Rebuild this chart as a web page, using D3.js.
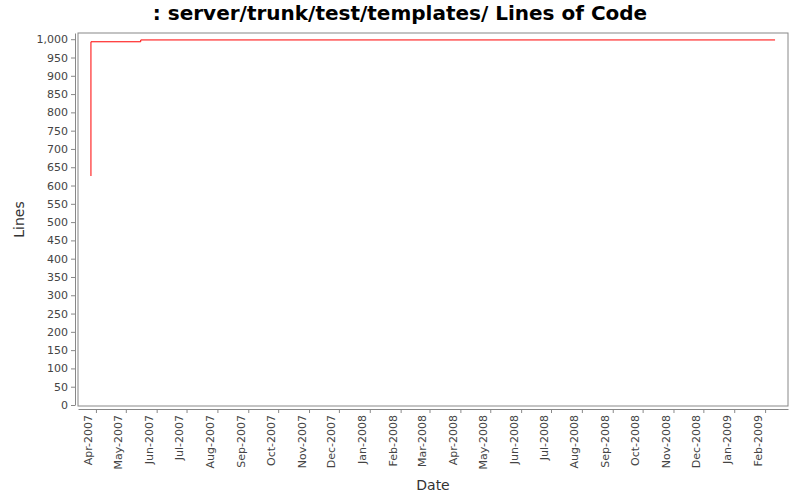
<!DOCTYPE html>
<html>
<head>
<meta charset="utf-8">
<script src="https://cdn.jsdelivr.net/npm/d3@7"></script>
<style>
  body { margin: 0; background: #fff; font-family: "DejaVu Sans", sans-serif; }
</style>
</head>
<body>
<svg id="chart" width="800" height="500"></svg>
<script>
const dates = ["2007-03-27", "2007-03-27", "2007-05-16", "2009-02-11"];
const lines = [626, 993, 998, 998];
const yTicks = d3.range(0, 1001, 50);

const parse = d3.timeParse("%Y-%m-%d");
const data = dates.map((d, i) => ({ date: parse(d), value: lines[i] }));

const margin = { left: 78, right: 12, top: 33, bottom: 94 };
const width = 800 - margin.left - margin.right;
const height = 500 - margin.top - margin.bottom;

const svg = d3.select("#chart");

svg.append("text")
  .attr("x", 400).attr("y", 20)
  .attr("text-anchor", "middle")
  .style("font-size", "20px").style("font-weight", "bold")
  .text(": server/trunk/test/templates/ Lines of Code");

const g = svg.append("g").attr("transform", `translate(${margin.left},${margin.top})`);

const getX = d3.scaleTime()
  .domain([parse("2007-03-14"), parse("2009-02-24")])
  .range([0, width]);

const getY = d3.scaleLinear()
  .domain([0, 1017])
  .range([height - 1, 0]);

const xAxis = d3.axisBottom(getX)
  .tickValues(d3.timeMonth.range(parse("2007-04-01"), parse("2009-03-01")))
  .tickFormat(d3.timeFormat("%b-%Y"))
  .tickSizeInner(4).tickSizeOuter(0);

const xg = g.append("g").attr("transform", `translate(0,${height + 3})`).call(xAxis);
xg.selectAll("text")
  .attr("transform", "rotate(-90)")
  .attr("text-anchor", "end")
  .attr("x", -6).attr("y", -4).attr("dy", 0)
  .style("font-size", "11px").attr("fill", "#444");

const yg = g.append("g").attr("transform", "translate(-3,0)")
  .call(d3.axisLeft(getY).tickValues(yTicks).tickFormat(d3.format(",")).tickSizeInner(4).tickSizeOuter(0));
yg.selectAll("text").style("font-size", "11px").attr("fill", "#444");

[xg, yg].forEach(a => {
  a.select(".domain").attr("stroke", "#888");
  a.selectAll(".tick line").attr("stroke", "#888");
  a.style("font-family", "DejaVu Sans, sans-serif");
});

g.append("rect")
  .attr("width", width).attr("height", height)
  .attr("fill", "none").attr("stroke", "#888");

const linePath = d3.line()
  .x(d => getX(d.date))
  .y(d => getY(d.value))
  .curve(d3.curveStepAfter)(data);

g.append("path").attr("d", linePath).attr("fill", "none").attr("stroke", "red").attr("stroke-width", 1);

svg.append("text")
  .attr("x", margin.left + width / 2).attr("y", 490)
  .attr("text-anchor", "middle").style("font-size", "14px").attr("fill", "#333")
  .text("Date");

svg.append("text")
  .attr("transform", `translate(24,${margin.top + height / 2}) rotate(-90)`)
  .attr("text-anchor", "middle").style("font-size", "14px").attr("fill", "#333")
  .text("Lines");
</script>
</body>
</html>
